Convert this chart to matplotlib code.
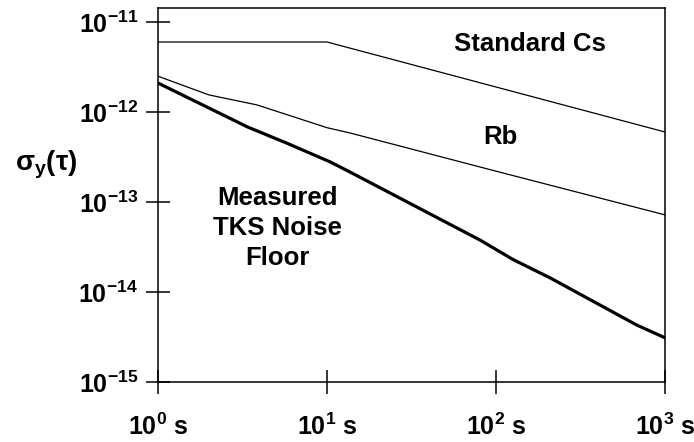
import numpy as np
import matplotlib
matplotlib.use("Agg")
import matplotlib.pyplot as plt

plt.rcParams['font.family'] = ['Liberation Sans', 'DejaVu Sans']
plt.rcParams['font.weight'] = 'bold'
plt.rcParams['mathtext.fontset'] = 'custom'
plt.rcParams['mathtext.rm'] = 'Liberation Sans'
plt.rcParams['mathtext.bf'] = 'Liberation Sans:bold'
plt.rcParams['mathtext.it'] = 'Liberation Sans:italic'

# Standard Cs
tau_cs = [1, 10, 1000]
sig_cs = [6.0e-12, 6.0e-12, 6.0e-13]

# Rb
tau_rb = [1, 2.0, 3.85, 10, 13.7, 105, 1000]
sig_rb = [2.5e-12, 1.55e-12, 1.2e-12, 6.7e-13, 5.85e-13, 2.15e-13, 7.2e-14]

# Measured TKS noise floor
tau_tks = [1, 3.4, 5.8, 10.4, 13.7, 80, 126, 210, 680, 1000]
sig_tks = [2.1e-12, 6.8e-13, 4.5e-13, 2.8e-13, 2.15e-13, 3.8e-14, 2.3e-14, 1.43e-14, 4.3e-15, 3.1e-15]

xticks = [1, 10, 100, 1000]
xlabels = [r'$\mathbf{10^{0}}$ s', r'$\mathbf{10^{1}}$ s', r'$\mathbf{10^{2}}$ s', r'$\mathbf{10^{3}}$ s']
yticks = [1e-15, 1e-14, 1e-13, 1e-12, 1e-11]
ylabels = [r'$\mathbf{10^{-15}}$', r'$\mathbf{10^{-14}}$', r'$\mathbf{10^{-13}}$',
           r'$\mathbf{10^{-12}}$', r'$\mathbf{10^{-11}}$']

fig = plt.figure(figsize=(6.94, 4.42), dpi=100)
ax = fig.add_axes([0.2277, 0.1357, 0.9582 - 0.2277, 0.9819 - 0.1357])

ax.plot(tau_cs, sig_cs, color='black', lw=0.9)
ax.plot(tau_rb, sig_rb, color='black', lw=0.9)
ax.plot(tau_tks, sig_tks, color='black', lw=2.3, solid_joinstyle='round')

ax.set_xscale('log')
ax.set_yscale('log')
ax.set_xlim(1, 1000)
ax.set_ylim(1e-15, 10 ** -10.844)

ax.set_xticks(xticks)
ax.set_xticklabels(xlabels, fontsize=18)
ax.set_yticks(yticks)
ax.set_yticklabels(ylabels, fontsize=18)
ax.minorticks_off()
ax.tick_params(axis='both', direction='inout', length=17, width=1.1, color='black')
ax.tick_params(axis='x', pad=14)
ax.tick_params(axis='y', pad=6)
for s in ax.spines.values():
    s.set_linewidth(1.1)

# label positions converted from the picture (decade = 169 px in x, 90 px in y)
ax.text(10 ** ((530 - 158) / 169), 1e-11 * 10 ** (-22 / 90), 'Standard Cs', fontsize=18.5,
        fontweight='bold', ha='center', va='center')
ax.text(10 ** ((500 - 158) / 169), 1e-11 * 10 ** (-115 / 90), 'Rb', fontsize=18.5,
        fontweight='bold', ha='center', va='center')
ax.text(10 ** ((277 - 158) / 169), 1e-11 * 10 ** (-206 / 90), 'Measured\nTKS Noise\nFloor',
        fontsize=18.5, fontweight='bold', ha='center', va='center', linespacing=1.3)

fig.text(46 / 694, 1 - 165 / 442, r'$\mathrm{\sigma}_{\mathbf{y}}(\mathrm{\tau})$', fontsize=20,
         ha='center', va='center')

fig.savefig('out.png', dpi=100)
